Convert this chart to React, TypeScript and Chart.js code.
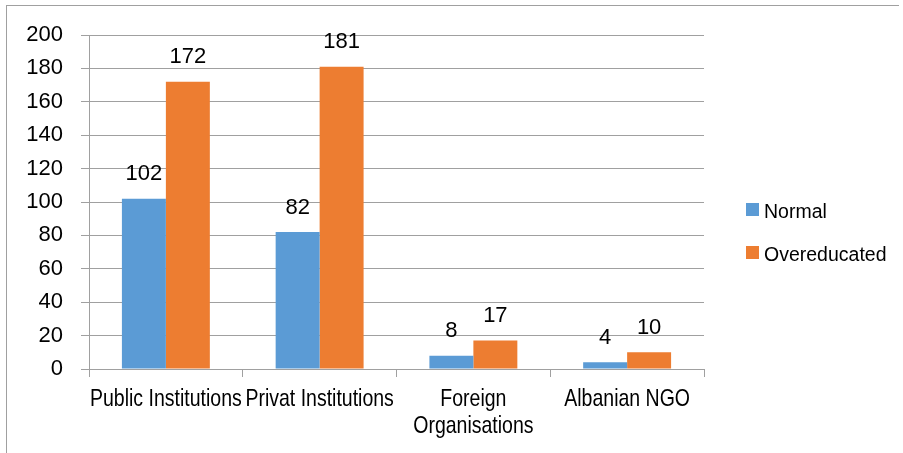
import React, { useEffect, useRef } from "react";
import { Chart, registerables } from "chart.js";

Chart.register(...registerables);

const categories: (string | string[])[] = [
  "Public Institutions",
  "Privat Institutions",
  ["Foreign", "Organisations"],
  "Albanian NGO",
];
const seriesNames = ["Normal", "Overeducated"];
const normalValues = [102, 82, 8, 4];
const overeducatedValues = [172, 181, 17, 10];
const seriesColors = ["#5B9BD5", "#ED7D31"];
const yMin = 0;
const yMax = 200;
const yStep = 20;

const NUM_FONT = "'Liberation Sans', Arial, sans-serif";
const TEXT_FONT = "'Liberation Sans', Arial, sans-serif";

const dataLabelPlugin = {
  id: "dataLabels",
  afterDatasetsDraw(chart: any) {
    const ctx = chart.ctx;
    ctx.save();
    ctx.font = `22px ${NUM_FONT}`;
    ctx.fillStyle = "#000";
    ctx.textAlign = "center";
    ctx.textBaseline = "alphabetic";
    chart.data.datasets.forEach((ds: any, i: number) => {
      const meta = chart.getDatasetMeta(i);
      meta.data.forEach((bar: any, j: number) => {
        ctx.fillText(String(ds.data[j]), bar.x, bar.y - 18.5);
      });
    });
    ctx.restore();
  },
};

const categoryLabelPlugin = {
  id: "categoryLabels",
  afterDraw(chart: any) {
    const ctx = chart.ctx;
    const xs = chart.scales.x;
    ctx.save();
    ctx.font = `19.5px ${TEXT_FONT}`;
    ctx.fillStyle = "#000";
    ctx.textAlign = "center";
    ctx.textBaseline = "alphabetic";
    chart.data.labels.forEach((lab: any, i: number) => {
      const lines = Array.isArray(lab) ? lab : [lab];
      const x = xs.getPixelForTick(i);
      lines.forEach((line: string, k: number) => {
        ctx.save();
        ctx.translate(x, xs.top + 37 + k * 27);
        ctx.scale(1, 1.22);
        ctx.fillText(line, 0, 0);
        ctx.restore();
      });
    });
    ctx.restore();
  },
};

const legendPlugin = {
  id: "customLegend",
  afterDraw(chart: any) {
    const ctx = chart.ctx;
    const area = chart.chartArea;
    ctx.save();
    ctx.font = `19.5px ${TEXT_FONT}`;
    ctx.textAlign = "left";
    ctx.textBaseline = "alphabetic";
    chart.data.datasets.forEach((ds: any, i: number) => {
      const cy = 209.5 + i * 43;
      const bx = area.right + 42;
      ctx.fillStyle = ds.backgroundColor;
      ctx.fillRect(bx, cy - 6.5, 13, 13);
      ctx.fillStyle = "#000";
      ctx.save();
      ctx.translate(bx + 18, cy + 8);
      ctx.scale(1, 1.08);
      ctx.fillText(ds.label, 0, 0);
      ctx.restore();
    });
    ctx.restore();
  },
};

export default function App() {
  const ref = useRef<HTMLCanvasElement | null>(null);
  useEffect(() => {
    document.body.style.margin = "0";
    let chart: Chart | null = null;
    let cancelled = false;
    const build = () => {
      if (cancelled || !ref.current) return;
      chart = new Chart(ref.current, {
        type: "bar",
        data: {
          labels: categories,
          datasets: [
            {
              label: seriesNames[0],
              data: normalValues,
              backgroundColor: seriesColors[0],
              categoryPercentage: 0.572,
              barPercentage: 1,
            },
            {
              label: seriesNames[1],
              data: overeducatedValues,
              backgroundColor: seriesColors[1],
              categoryPercentage: 0.572,
              barPercentage: 1,
            },
          ],
        },
        options: {
          responsive: false,
          animation: false,
          devicePixelRatio: 1,
          layout: { padding: { left: 0, top: 35, right: 199, bottom: 0 } },
          plugins: {
            legend: { display: false },
            tooltip: { enabled: false },
          },
          scales: {
            x: {
              offset: true,
              grid: {
                offset: true,
                drawOnChartArea: false,
                drawTicks: true,
                tickLength: 8,
                color: "#a0a0a0",
              },
              border: { color: "#a0a0a0" },
              ticks: {
                display: false,
                autoSkip: false,
                maxRotation: 0,
              },
              afterFit(scale: any) {
                scale.height = 84;
              },
            },
            y: {
              min: yMin,
              max: yMax,
              grid: { color: "#a0a0a0", tickLength: 8 },
              border: { color: "#a0a0a0" },
              ticks: {
                stepSize: yStep,
                color: "#000",
                font: { family: NUM_FONT, size: 22 },
                padding: 18,
              },
              afterFit(scale: any) {
                scale.width = 89;
              },
            },
          },
        },
        plugins: [dataLabelPlugin, categoryLabelPlugin, legendPlugin],
      });
    };
    const fontsReady = (document as any).fonts
      ? (document as any).fonts.load("19.5px 'Liberation Sans'").catch(() => null)
      : Promise.resolve(null);
    fontsReady.then(build);
    return () => {
      cancelled = true;
      if (chart) chart.destroy();
    };
  }, []);
  return (
    <div style={{ position: "fixed", left: 0, top: 0, width: 903, height: 453, background: "#fff" }}>
      <div
        style={{
          position: "absolute",
          left: 6,
          top: 5,
          width: 892,
          height: 460,
          borderTop: "1px solid #a0a0a0",
          borderLeft: "1px solid #a0a0a0",
        }}
      />
      <canvas ref={ref} width={903} height={453} style={{ position: "absolute", left: 0, top: 0 }} />
    </div>
  );
}
